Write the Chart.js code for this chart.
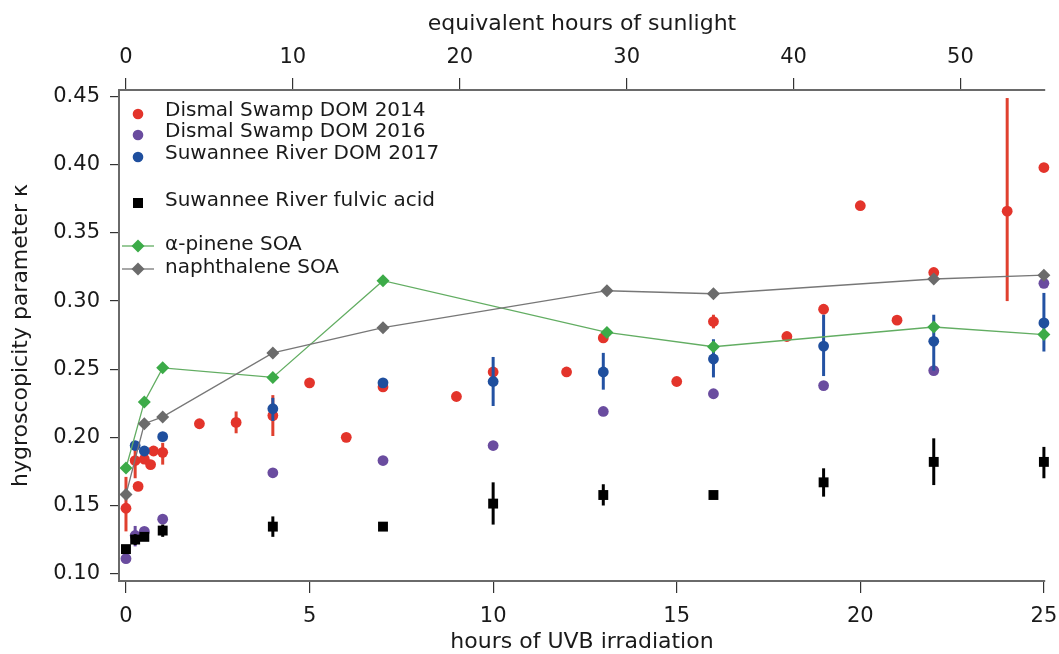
<!DOCTYPE html>
<html>
<head>
<meta charset="utf-8">
<script src="https://cdn.jsdelivr.net/npm/chart.js@4.4.0/dist/chart.umd.min.js"></script>
<style>
  html, body { margin: 0; padding: 0; background: #fff; }
</style>
</head>
<body>
<canvas id="my-chart" width="1059" height="654"></canvas>
<script>
// hours of UVB irradiation -> equivalent hours of sunlight
let sunFactor = 2.2;

let xTicks = [0, 5, 10, 15, 20, 25];
let topTicks = [0, 10, 20, 30, 40, 50];
let yTicks = [0.10, 0.15, 0.20, 0.25, 0.30, 0.35, 0.40, 0.45];

// Dismal Swamp DOM 2014
let ds14X = [0, 0.25, 0.33, 0.5, 0.67, 0.75, 1, 2, 3, 4, 5, 6, 7, 9, 10, 12, 13, 15, 16, 18, 19, 20, 21, 22, 24, 25];
let ds14Y = [0.148, 0.183, 0.164, 0.184, 0.180, 0.190, 0.189, 0.210, 0.211, 0.216, 0.240, 0.200, 0.237, 0.230, 0.248, 0.248, 0.273, 0.241, 0.285, 0.274, 0.294, 0.370, 0.286, 0.321, 0.366, 0.398];
let ds14Lo = [0.131, 0.170, null, null, null, null, 0.180, null, 0.203, 0.201, null, null, null, null, null, null, null, null, 0.280, null, null, null, null, null, 0.300, null];
let ds14Hi = [0.171, 0.193, null, null, null, null, 0.196, null, 0.219, 0.231, null, null, null, null, null, null, null, null, 0.290, null, null, null, null, null, 0.449, null];

// Dismal Swamp DOM 2016
let ds16X = [0, 0.25, 0.5, 1, 4, 7, 10, 13, 16, 19, 22, 25];
let ds16Y = [0.111, 0.128, 0.131, 0.140, 0.174, 0.183, 0.194, 0.219, 0.232, 0.238, 0.249, 0.313];
let ds16Lo = [null, 0.120, null, null, 0.171, null, null, null, null, null, null, null];
let ds16Hi = [null, 0.135, null, null, 0.176, null, null, null, null, null, null, null];

// Suwannee River DOM 2017
let srX = [0.25, 0.5, 1, 4, 7, 10, 13, 16, 19, 22, 25];
let srY = [0.194, 0.190, 0.2005, 0.221, 0.240, 0.241, 0.248, 0.2575, 0.267, 0.2705, 0.284];
let srLo = [null, null, null, 0.212, null, 0.223, 0.235, 0.244, 0.245, 0.249, 0.263];
let srHi = [null, null, null, 0.229, null, 0.259, 0.262, 0.272, 0.290, 0.290, 0.306];

// Suwannee River fulvic acid
let faX = [0, 0.25, 0.5, 1, 4, 7, 10, 13, 16, 19, 22, 25];
let faY = [0.118, 0.125, 0.127, 0.1316, 0.1345, 0.1345, 0.1514, 0.1577, 0.1577, 0.167, 0.182, 0.182];
let faLo = [null, 0.121, 0.124, 0.127, 0.127, null, 0.136, 0.150, null, 0.1565, 0.165, 0.170];
let faHi = [null, 0.129, 0.130, 0.136, 0.142, null, 0.167, 0.1656, null, 0.1773, 0.1993, 0.193];

// alpha-pinene SOA
let apX = [0, 0.5, 1, 4, 7, 13.1, 16, 22, 25];
let apY = [0.1775, 0.226, 0.251, 0.244, 0.315, 0.277, 0.2665, 0.281, 0.2754];

// naphthalene SOA
let naX = [0, 0.5, 1, 4, 7, 13.1, 16, 22, 25];
let naY = [0.158, 0.210, 0.215, 0.262, 0.2805, 0.3076, 0.3054, 0.3162, 0.319];

let red = '#e3342b', purple = '#6a4c9f', blue = '#1f4f9e', black = '#000000';
let green = '#3cab48', greenLine = '#62ad62', grey = '#6b6b6b', greyLine = '#777777';

function pts(xs, ys) {
    return xs.map(function(x, i) { return {x: x, y: ys[i]}; });
}

let fontFamily = '"DejaVu Sans", "Liberation Sans", Arial, sans-serif';

// vertical error bars, drawn through the chart scales
let errorBars = {
    id: 'errorBars',
    beforeDatasetDraw: function(chart, args) {
        let ds = chart.data.datasets[args.index];
        if (!ds.errLo) return;
        let ctx = chart.ctx;
        let xs = chart.scales.x, ys = chart.scales.y;
        ctx.save();
        ctx.strokeStyle = ds.barColor;
        ctx.lineWidth = 3;
        ds.data.forEach(function(p, i) {
            if (ds.errLo[i] == null) return;
            let px = xs.getPixelForValue(p.x);
            ctx.beginPath();
            ctx.moveTo(px, ys.getPixelForValue(ds.errLo[i]));
            ctx.lineTo(px, ys.getPixelForValue(ds.errHi[i]));
            ctx.stroke();
        });
        ctx.restore();
    }
};

// legend with gaps between groups
let legendItems = [
    {text: 'Dismal Swamp DOM 2014', style: 'circle', color: red, y: 112},
    {text: 'Dismal Swamp DOM 2016', style: 'circle', color: purple, y: 133},
    {text: 'Suwannee River DOM 2017', style: 'circle', color: blue, y: 155},
    {text: 'Suwannee River fulvic acid', style: 'square', color: black, y: 202},
    {text: 'α-pinene SOA', style: 'diamond', color: green, line: greenLine, y: 246},
    {text: 'naphthalene SOA', style: 'diamond', color: grey, line: greyLine, y: 269}
];

let customLegend = {
    id: 'customLegend',
    afterDraw: function(chart) {
        let ctx = chart.ctx;
        ctx.save();
        ctx.font = '20px ' + fontFamily;
        ctx.textBaseline = 'middle';
        ctx.fillStyle = '#1a1a1a';
        legendItems.forEach(function(it) {
            let mx = 138;
            if (it.line) {
                ctx.strokeStyle = it.line;
                ctx.lineWidth = 1.3;
                ctx.beginPath();
                ctx.moveTo(122, it.y);
                ctx.lineTo(154, it.y);
                ctx.stroke();
            }
            ctx.fillStyle = it.color;
            ctx.beginPath();
            if (it.style === 'circle') {
                ctx.arc(mx, it.y + 2, 5.3, 0, Math.PI * 2);
            } else if (it.style === 'square') {
                ctx.rect(mx - 5, it.y - 4, 10, 10);
            } else {
                ctx.moveTo(mx, it.y - 6.5);
                ctx.lineTo(mx + 6.5, it.y);
                ctx.lineTo(mx, it.y + 6.5);
                ctx.lineTo(mx - 6.5, it.y);
                ctx.closePath();
            }
            ctx.fill();
            ctx.fillStyle = '#1a1a1a';
            ctx.fillText(it.text, 165, it.y - 1);
        });
        ctx.restore();
    }
};

function fixedBox(size, horizontal) {
    return function(scale) {
        if (horizontal) scale.height = size; else scale.width = size;
        scale.paddingLeft = 0;
        scale.paddingRight = 0;
        scale.paddingTop = 0;
        scale.paddingBottom = 0;
    };
}

function setTicks(values) {
    return function(scale) {
        scale.ticks = values.map(function(v) { return {value: v}; });
    };
}

let axisGrid = {display: true, drawOnChartArea: false, drawTicks: true, tickLength: 12, color: '#333', lineWidth: 1.2};
let axisBorder = {display: true, color: '#6a6a6a', width: 2};

let xMin = -0.19, xMax = 25.03;

let ctx = document.getElementById('my-chart').getContext('2d');

let myChart = new Chart(ctx, {
    type: 'scatter',
    data: {
        datasets: [
            {
                label: 'naphthalene SOA', data: pts(naX, naY), showLine: true,
                borderColor: greyLine, borderWidth: 1.3, backgroundColor: grey,
                pointStyle: 'rectRot', pointRadius: 6.5, pointBorderWidth: 0, clip: false
            },
            {
                label: 'α-pinene SOA', data: pts(apX, apY), showLine: true,
                borderColor: greenLine, borderWidth: 1.3, backgroundColor: green,
                pointStyle: 'rectRot', pointRadius: 6.5, pointBorderWidth: 0, clip: false
            },
            {
                label: 'Suwannee River fulvic acid', data: pts(faX, faY),
                backgroundColor: black, borderColor: black, pointStyle: 'rect', pointRadius: 7,
                pointBorderWidth: 0, errLo: faLo, errHi: faHi, barColor: black, clip: false
            },
            {
                label: 'Suwannee River DOM 2017', data: pts(srX, srY),
                backgroundColor: blue, borderColor: blue, pointRadius: 5.4,
                pointBorderWidth: 0, errLo: srLo, errHi: srHi, barColor: '#2352a3', clip: false
            },
            {
                label: 'Dismal Swamp DOM 2016', data: pts(ds16X, ds16Y),
                backgroundColor: purple, borderColor: purple, pointRadius: 5.4,
                pointBorderWidth: 0, errLo: ds16Lo, errHi: ds16Hi, barColor: purple, clip: false
            },
            {
                label: 'Dismal Swamp DOM 2014', data: pts(ds14X, ds14Y),
                backgroundColor: red, borderColor: red, pointRadius: 5.4,
                pointBorderWidth: 0, errLo: ds14Lo, errHi: ds14Hi, barColor: '#e0402f', clip: false
            }
        ]
    },
    options: {
        responsive: false,
        animation: false,
        devicePixelRatio: 1,
        layout: {padding: {left: 0, right: 14, top: 0, bottom: 0}},
        plugins: {legend: {display: false}, tooltip: {enabled: false}},
        scales: {
            x: {
                type: 'linear', position: 'bottom', min: xMin, max: xMax,
                afterFit: fixedBox(73, true), afterBuildTicks: setTicks(xTicks),
                grid: axisGrid, border: axisBorder,
                ticks: {font: {size: 21, family: fontFamily}, color: '#1a1a1a', padding: 11},
                title: {display: true, text: 'hours of UVB irradiation', color: '#1a1a1a',
                        font: {size: 22, family: fontFamily, lineHeight: 1.0}, padding: {top: 0, bottom: 1}}
            },
            x2: {
                type: 'linear', position: 'top', min: xMin * sunFactor, max: xMax * sunFactor,
                afterFit: fixedBox(90, true), afterBuildTicks: setTicks(topTicks),
                grid: axisGrid, border: axisBorder,
                ticks: {font: {size: 21, family: fontFamily}, color: '#1a1a1a', padding: 8},
                title: {display: true, text: 'equivalent hours of sunlight', color: '#1a1a1a',
                        font: {size: 22, family: fontFamily, lineHeight: 1.0}, padding: {top: 13, bottom: 0}}
            },
            y: {
                type: 'linear', position: 'left', min: 0.0946, max: 0.4549,
                afterFit: fixedBox(119, false), afterBuildTicks: setTicks(yTicks),
                grid: {display: true, drawOnChartArea: false, drawTicks: true, tickLength: 9, color: '#333', lineWidth: 1.2},
                border: axisBorder,
                ticks: {font: {size: 21, family: fontFamily}, color: '#1a1a1a', padding: 10,
                        callback: function(v) { return v.toFixed(2); }},
                title: {display: true, text: 'hygroscopicity parameter κ', color: '#1a1a1a',
                        font: {size: 22, family: fontFamily, lineHeight: 1.0}, padding: {top: 10, bottom: 0}}
            }
        }
    },
    plugins: [errorBars, customLegend]
});
</script>
</body>
</html>
